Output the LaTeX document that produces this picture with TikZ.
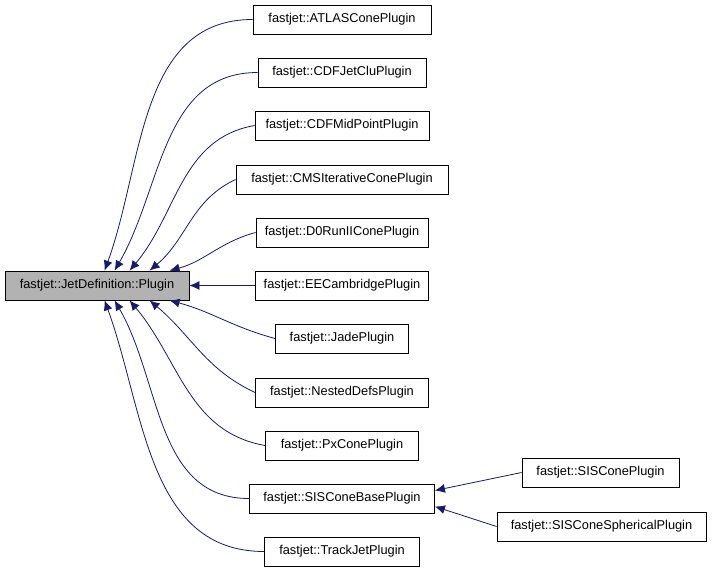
\documentclass[tikz,border=0pt]{standalone}
\usepackage{fontspec}
\setmainfont{Liberation Sans}
\usetikzlibrary{arrows.meta}
\definecolor{navy}{RGB}{25,25,112}
\begin{document}
\begin{tikzpicture}[x=1pt,y=-1pt,
  box/.style={draw=black,line width=0.8pt,minimum height=29pt,inner sep=0pt,font=\fontsize{12.8}{14}\selectfont},
  edge/.style={draw=navy,line width=0.8pt,-{Latex[length=10pt,width=9pt]}}]
\useasboundingbox (0,0) rectangle (712,573);
\node[box,fill=black!30,minimum width=184pt] (base) at (97,285.5) {fastjet::JetDefinition::Plugin};
\node[box,minimum width=178pt] (a) at (342,19.5) {fastjet::ATLASConePlugin};
\node[box,minimum width=168pt] (b) at (342,72.5) {fastjet::CDFJetCluPlugin};
\node[box,minimum width=174pt] (c) at (342,125.5) {fastjet::CDFMidPointPlugin};
\node[box,minimum width=212pt] (d) at (342,179.5) {fastjet::CMSIterativeConePlugin};
\node[box,minimum width=172pt] (e) at (342,232.5) {fastjet::D0RunIIConePlugin};
\node[box,minimum width=173pt] (f) at (342,285.5) {fastjet::EECambridgePlugin};
\node[box,minimum width=133pt] (g) at (342,338.5) {fastjet::JadePlugin};
\node[box,minimum width=173pt] (h) at (342,392.5) {fastjet::NestedDefsPlugin};
\node[box,minimum width=153pt] (i) at (342,445.5) {fastjet::PxConePlugin};
\node[box,minimum width=185pt] (j) at (342,498.5) {fastjet::SISConeBasePlugin};
\node[box,minimum width=155pt] (k) at (342,551.5) {fastjet::TrackJetPlugin};
\node[box,minimum width=157pt] (l) at (600.5,472.5) {fastjet::SISConePlugin};
\node[box,minimum width=209pt] (m) at (601.5,526.5) {fastjet::SISConeSphericalPlugin};
\draw[edge] (a.west) to[out=180,in=70] ([xshift=100pt]base.north west);
\draw[edge] (b.west) to[out=180,in=60] ([xshift=110pt]base.north west);
\draw[edge] (c.west) to[out=190,in=50] ([xshift=125pt]base.north west);
\draw[edge] (d.west) to[out=205,in=40] ([xshift=145pt]base.north west);
\draw[edge] (e.west) to[out=195,in=15] ([xshift=165pt]base.north west);
\draw[edge] (f.west) -- (base.east);
\draw[edge] (g.west) to[out=165,in=-15] ([xshift=165pt]base.south west);
\draw[edge] (h.west) to[out=155,in=-40] ([xshift=145pt]base.south west);
\draw[edge] (i.west) to[out=170,in=-50] ([xshift=125pt]base.south west);
\draw[edge] (j.west) to[out=180,in=-60] ([xshift=110pt]base.south west);
\draw[edge] (k.west) to[out=180,in=-70] ([xshift=100pt]base.south west);
\draw[edge] (l.west) -- ([yshift=8pt]j.east);
\draw[edge] (m.west) -- ([yshift=-8pt]j.east);
\end{tikzpicture}
\end{document}
